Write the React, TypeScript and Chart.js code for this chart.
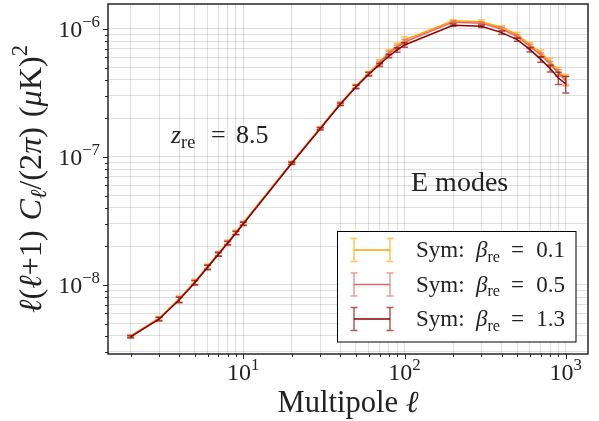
import React, { useEffect, useRef } from "react";
import { Chart, registerables } from "chart.js";
Chart.register(...registerables);

// ---- data ----
const ELL = [2, 3, 4, 5, 6, 7, 8, 9, 10, 20, 30, 40, 50, 60, 70, 80, 90, 100, 200, 300, 400, 500, 600, 700, 800, 900, 1000];

const CL_B01 = [4.0e-9, 5.5e-9, 7.8e-9, 1.06e-8, 1.4e-8, 1.76e-8, 2.16e-8, 2.59e-8, 3.06e-8, 9.1e-8, 1.69e-7, 2.63e-7, 3.59e-7, 4.52e-7, 5.52e-7, 6.61e-7, 7.37e-7, 8.2e-7, 1.16e-6, 1.14e-6, 1.03e-6, 9.06e-7, 7.54e-7, 6.53e-7, 5.57e-7, 4.7e-7, 4.07e-7];
const CL_B05 = [3.97e-9, 5.45e-9, 7.7e-9, 1.05e-8, 1.38e-8, 1.75e-8, 2.14e-8, 2.56e-8, 3.03e-8, 9.0e-8, 1.67e-7, 2.6e-7, 3.55e-7, 4.47e-7, 5.4e-7, 6.44e-7, 7.17e-7, 7.92e-7, 1.13e-6, 1.11e-6, 1.0e-6, 8.74e-7, 7.3e-7, 6.27e-7, 5.33e-7, 4.54e-7, 3.92e-7];
const CL_B13 = [3.94e-9, 5.4e-9, 7.64e-9, 1.04e-8, 1.37e-8, 1.73e-8, 2.12e-8, 2.54e-8, 3.0e-8, 8.93e-8, 1.66e-7, 2.58e-7, 3.52e-7, 4.43e-7, 5.25e-7, 6.15e-7, 6.86e-7, 7.5e-7, 1.07e-6, 1.05e-6, 9.36e-7, 8.25e-7, 6.89e-7, 5.79e-7, 4.91e-7, 4.14e-7, 3.72e-7];

// relative 1-sigma errors
const ERR_B01 = [0.02, 0.03, 0.06, 0.05, 0.04, 0.04, 0.04, 0.04, 0.03, 0.02, 0.02, 0.03, 0.03, 0.03, 0.04, 0.04, 0.05, 0.06, 0.02, 0.03, 0.03, 0.04, 0.04, 0.05, 0.06, 0.07, 0.09];
const ERR_B05 = [0.02, 0.03, 0.05, 0.04, 0.04, 0.04, 0.03, 0.03, 0.03, 0.02, 0.02, 0.03, 0.03, 0.03, 0.03, 0.04, 0.04, 0.05, 0.02, 0.02, 0.03, 0.03, 0.04, 0.04, 0.05, 0.06, 0.08];
const ERR_B13 = [0.02, 0.03, 0.05, 0.04, 0.04, 0.03, 0.03, 0.03, 0.03, 0.02, 0.02, 0.02, 0.03, 0.03, 0.03, 0.03, 0.04, 0.04, 0.02, 0.02, 0.03, 0.03, 0.04, 0.05, 0.06, 0.11, 0.15];

const BETA_LABELS = ["0.1", "0.5", "1.3"];
const X_TICKS = [1, 2, 3];
const Y_TICKS = [-8, -7, -6];

const SERIES = [
  { beta: BETA_LABELS[0], values: CL_B01, err: ERR_B01, color: "#FFA500", errColor: "rgba(255,165,0,0.65)" },
  { beta: BETA_LABELS[1], values: CL_B05, err: ERR_B05, color: "#E06666", errColor: "rgba(224,102,102,0.65)" },
  { beta: BETA_LABELS[2], values: CL_B13, err: ERR_B13, color: "#8B0000", errColor: "rgba(139,0,0,0.65)" },
];

const FONT = "'Liberation Serif', 'DejaVu Serif', serif";
const X_MIN = 1.448, X_MAX = 1374;
const Y_MIN = 2.89e-9, Y_MAX = 1.567e-6;

type Run = { t: string; it?: boolean; sc?: number; dy?: number; gap?: number };

function drawRuns(ctx: CanvasRenderingContext2D, runs: Run[], x: number, y: number, size: number, draw = true) {
  let cx = x;
  for (const r of runs) {
    const s = size * (r.sc ?? 1);
    ctx.font = `${r.it ? "italic " : ""}${s}px ${FONT}`;
    cx += (r.gap ?? 0) * size;
    if (draw) ctx.fillText(r.t, cx, y + (r.dy ?? 0) * size);
    cx += ctx.measureText(r.t).width;
  }
  return cx - x;
}

function logTicks(min: number, max: number) {
  const out: { value: number; major: boolean }[] = [];
  for (let e = Math.floor(Math.log10(min)); e <= Math.ceil(Math.log10(max)); e++) {
    for (let m = 1; m < 10; m++) {
      const v = m * Math.pow(10, e);
      if (v >= min && v <= max) out.push({ value: v, major: m === 1 });
    }
  }
  return out;
}

const drawPlugin = {
  id: "custom",
  afterDatasetDraw(chart: any, args: any) {
    const s = SERIES[args.index];
    if (!s) return;
    const ctx = chart.ctx as CanvasRenderingContext2D;
    const xs = chart.scales.x, ys = chart.scales.y;
    ctx.save();
    ctx.strokeStyle = s.errColor;
    ctx.lineWidth = 1.5;
    ctx.beginPath();
    ELL.forEach((l, i) => {
      const px = xs.getPixelForValue(l);
      const v = s.values[i];
      const e = v * s.err[i];
      const top = ys.getPixelForValue(v + e);
      const bot = ys.getPixelForValue(v - e);
      ctx.moveTo(px, top); ctx.lineTo(px, bot);
      ctx.moveTo(px - 3.5, top); ctx.lineTo(px + 3.5, top);
      ctx.moveTo(px - 3.5, bot); ctx.lineTo(px + 3.5, bot);
    });
    ctx.stroke();
    ctx.restore();
  },
  afterDraw(chart: any) {
    const ctx = chart.ctx as CanvasRenderingContext2D;
    const a = chart.chartArea;
    const xs = chart.scales.x, ys = chart.scales.y;
    ctx.save();
    // frame
    ctx.strokeStyle = "#262626";
    ctx.lineWidth = 1.5;
    ctx.strokeRect(a.left, a.top, a.right - a.left, a.bottom - a.top);
    // tick marks
    ctx.lineWidth = 1;
    ctx.beginPath();
    logTicks(X_MIN, X_MAX).forEach((t) => {
      const px = Math.round(xs.getPixelForValue(t.value)) + 0.5;
      ctx.moveTo(px, a.bottom); ctx.lineTo(px, a.bottom + (t.major ? 5 : 3));
    });
    logTicks(Y_MIN, Y_MAX).forEach((t) => {
      const py = Math.round(ys.getPixelForValue(t.value)) + 0.5;
      ctx.moveTo(a.left, py); ctx.lineTo(a.left - (t.major ? 5 : 3), py);
    });
    ctx.stroke();

    ctx.fillStyle = "#222";
    ctx.textBaseline = "alphabetic";
    ctx.textAlign = "left";
    // x tick labels
    X_TICKS.forEach((e) => {
      const runs: Run[] = [{ t: "10" }, { t: String(e), sc: 0.7, dy: -0.42 }];
      const w = drawRuns(ctx, runs, 0, 0, 24, false);
      const px = xs.getPixelForValue(Math.pow(10, e));
      drawRuns(ctx, runs, px - w / 2, 380, 24);
    });
    // y tick labels
    Y_TICKS.forEach((e) => {
      const runs: Run[] = [{ t: "10" }, { t: "\u2212" + String(-e), sc: 0.7, dy: -0.42 }];
      const w = drawRuns(ctx, runs, 0, 0, 24, false);
      const py = ys.getPixelForValue(Math.pow(10, e));
      drawRuns(ctx, runs, 100 - w, py + 8.5, 24);
    });

    // x title
    const xr: Run[] = [{ t: "Multipole " }, { t: "\u2113", it: true }];
    let w0 = drawRuns(ctx, xr, 0, 0, 28, false);
    let size = 28 * 141 / w0;
    let w = drawRuns(ctx, xr, 0, 0, size, false);
    drawRuns(ctx, xr, (a.left + a.right) / 2 - w / 2, 412, size);

    // y title
    const yr: Run[] = [
      { t: "\u2113", it: true }, { t: "(" }, { t: "\u2113", it: true }, { t: "+" }, { t: "1" }, { t: ")" },
      { t: "C", it: true, gap: 0.3 }, { t: "\u2113", it: true, sc: 0.7, dy: 0.15 }, { t: "/" }, { t: "(" }, { t: "2" },
      { t: "\u03c0", it: true }, { t: ")" }, { t: "(", gap: 0.3 }, { t: "\u03bc", it: true }, { t: "K" }, { t: ")" },
      { t: "2", sc: 0.7, dy: -0.42 },
    ];
    w0 = drawRuns(ctx, yr, 0, 0, 27, false);
    size = 27 * 268 / w0;
    w = drawRuns(ctx, yr, 0, 0, size, false);
    ctx.save();
    ctx.translate(41, (a.top + a.bottom) / 2);
    ctx.rotate(-Math.PI / 2);
    drawRuns(ctx, yr, -w / 2, 0, size);
    ctx.restore();

    // annotations
    drawRuns(ctx, [{ t: "z", it: true }, { t: "re", sc: 0.7, dy: 0.2 }], 171, 143, 26);
    drawRuns(ctx, [{ t: "=" }], 211, 143, 26);
    drawRuns(ctx, [{ t: "8.5" }], 236, 143, 26);
    const ew = drawRuns(ctx, [{ t: "E modes" }], 0, 0, 26, false);
    const es = 26 * 99 / ew;
    drawRuns(ctx, [{ t: "E modes" }], 411, 191, Math.min(es, 28));

    // legend
    ctx.fillStyle = "#fff";
    ctx.fillRect(337.5, 231.5, 238.5, 110.5);
    ctx.strokeStyle = "#000";
    ctx.lineWidth = 1;
    ctx.strokeRect(337.5, 231.5, 238.5, 110.5);
    const rows = [250, 284.5, 319];
    SERIES.forEach((s, i) => {
      const cy = rows[i];
      ctx.lineWidth = 1.5;
      ctx.strokeStyle = s.errColor;
      ctx.beginPath();
      ctx.moveTo(354, cy - 11.5); ctx.lineTo(354, cy + 11.5);
      ctx.moveTo(390, cy - 11.5); ctx.lineTo(390, cy + 11.5);
      ctx.moveTo(350.5, cy - 11.5); ctx.lineTo(357.5, cy - 11.5);
      ctx.moveTo(350.5, cy + 11.5); ctx.lineTo(357.5, cy + 11.5);
      ctx.moveTo(386.5, cy - 11.5); ctx.lineTo(393.5, cy - 11.5);
      ctx.moveTo(386.5, cy + 11.5); ctx.lineTo(393.5, cy + 11.5);
      ctx.stroke();
      ctx.strokeStyle = s.color;
      ctx.beginPath();
      ctx.moveTo(354, cy); ctx.lineTo(390, cy);
      ctx.stroke();
      ctx.fillStyle = "#222";
      const base = cy + 7;
      drawRuns(ctx, [{ t: "Sym:" }], 416, base, 23);
      drawRuns(ctx, [{ t: "\u03b2", it: true }, { t: "re", sc: 0.7, dy: 0.2 }], 476, base, 23);
      drawRuns(ctx, [{ t: "=" }], 511, base, 23);
      const vw = drawRuns(ctx, [{ t: s.beta }], 0, 0, 23, false);
      drawRuns(ctx, [{ t: s.beta }], 565 - vw, base, 23);
    });
    ctx.restore();
  },
};

export default function App() {
  const ref = useRef<HTMLCanvasElement>(null);
  useEffect(() => {
    if (!ref.current) return;
    const chart = new Chart(ref.current, {
      type: "line",
      data: {
        datasets: SERIES.map((s, i) => ({
          label: "Sym: beta_re = " + s.beta,
          data: ELL.map((l, j) => ({ x: l, y: s.values[j] })),
          borderColor: s.color,
          backgroundColor: s.color,
          borderWidth: 1.5,
          pointRadius: 0,
          fill: false,
          tension: 0,
          order: 3 - i,
        })),
      },
      options: {
        responsive: false,
        animation: false,
        events: [],
        layout: { padding: { left: 0, top: 4, right: 11, bottom: 0 } },
        plugins: { legend: { display: false }, tooltip: { enabled: false } },
        scales: {
          x: {
            type: "logarithmic",
            min: X_MIN,
            max: X_MAX,
            afterBuildTicks: (sc: any) => { sc.ticks = logTicks(X_MIN, X_MAX).map((t) => ({ value: t.value })); },
            afterFit: (sc: any) => { sc.height = 67; },
            ticks: { display: false },
            grid: { color: "rgba(0,0,0,0.13)", lineWidth: 1, drawTicks: false },
            border: { display: false },
          },
          y: {
            type: "logarithmic",
            min: Y_MIN,
            max: Y_MAX,
            afterBuildTicks: (sc: any) => { sc.ticks = logTicks(Y_MIN, Y_MAX).map((t) => ({ value: t.value })); },
            afterFit: (sc: any) => { sc.width = 108; },
            ticks: { display: false },
            grid: { color: "rgba(0,0,0,0.13)", lineWidth: 1, drawTicks: false },
            border: { display: false },
          },
        },
      } as any,
      plugins: [drawPlugin],
    });
    return () => chart.destroy();
  }, []);
  return (
    <div style={{ position: "absolute", left: 0, top: 0, width: 599, height: 421, background: "#fff" }}>
      <canvas ref={ref} width={599} height={421} />
    </div>
  );
}
